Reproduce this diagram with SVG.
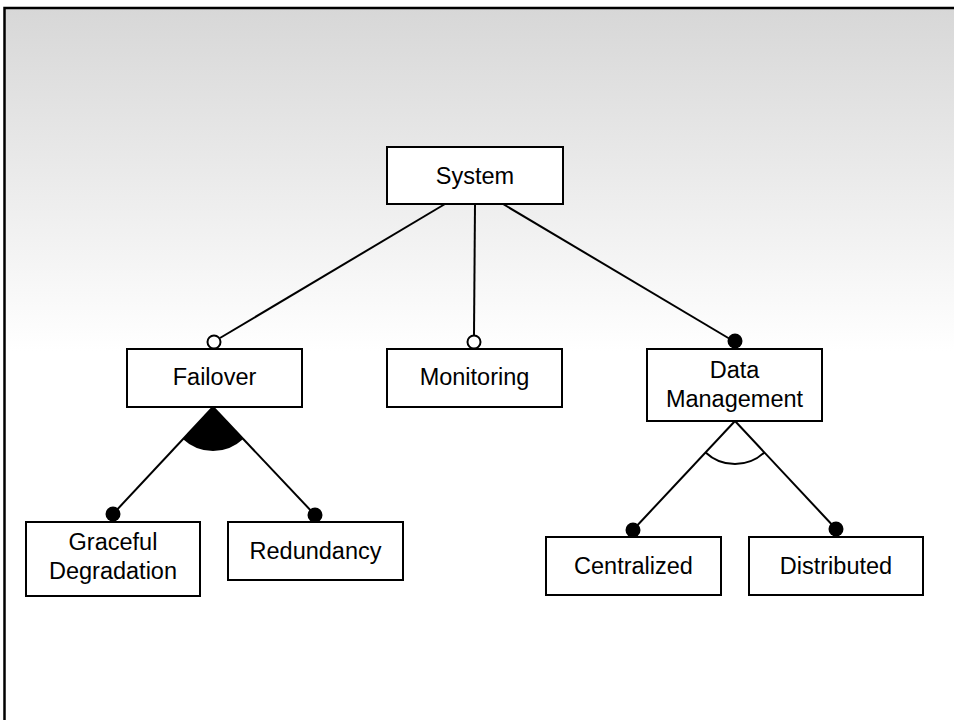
<svg xmlns="http://www.w3.org/2000/svg" width="954" height="720" viewBox="0 0 954 720">
  <defs>
    <linearGradient id="bg" x1="0" y1="0" x2="0" y2="1" gradientUnits="objectBoundingBox">
      <stop offset="0" stop-color="#d7d7d7"/>
      <stop offset="0.47" stop-color="#ffffff"/>
      <stop offset="1" stop-color="#ffffff"/>
    </linearGradient>
    <style>
      .box { fill: #ffffff; stroke: #000000; stroke-width: 2; }
      .lbl { font-family: "Liberation Sans", Arial, sans-serif; font-size: 23.5px; fill: #000000; text-anchor: middle; }
      .edge { stroke: #000000; stroke-width: 2; fill: none; }
      .opt { fill: #ffffff; stroke: #000000; stroke-width: 2; }
      .mand { fill: #000000; stroke: none; }
    </style>
  </defs>

  <!-- page background with frame -->
  <rect x="0" y="0" width="954" height="720" fill="#ffffff"/>
  <rect x="4.5" y="8" width="960" height="730" fill="url(#bg)" stroke="#000000" stroke-width="2.5"/>

  <!-- connectors -->
  <g id="connectors">
    <line class="edge" x1="445" y1="204" x2="220" y2="338"/>
    <line class="edge" x1="475" y1="204" x2="474" y2="335"/>
    <line class="edge" x1="503" y1="204" x2="735" y2="342"/>

    <!-- Failover: or-group (filled sector) -->
    <path class="mand" d="M213,407 L182.8,439 A44,44 0 0 0 243.2,439 Z"/>
    <line class="edge" x1="213" y1="407" x2="113" y2="514"/>
    <line class="edge" x1="213" y1="407" x2="315" y2="515"/>

    <!-- Data Management: alternative group (open arc) -->
    <line class="edge" x1="735" y1="421" x2="633" y2="530"/>
    <line class="edge" x1="735" y1="421" x2="836" y2="529"/>
    <path class="edge" d="M705.6,452.4 A43,43 0 0 0 764.4,452.4"/>

    <!-- end markers -->
    <circle class="opt" cx="214" cy="342" r="6.5"/>
    <circle class="opt" cx="474" cy="342" r="6.5"/>
    <circle class="mand" cx="735" cy="341" r="7.5"/>
    <circle class="mand" cx="113" cy="514" r="7.5"/>
    <circle class="mand" cx="315" cy="515" r="7.5"/>
    <circle class="mand" cx="633" cy="530" r="7.5"/>
    <circle class="mand" cx="836" cy="529" r="7.5"/>
  </g>

  <g id="system">
    <rect class="box" x="387" y="147" width="176" height="57"/>
    <text class="lbl" x="475" y="183.5">System</text>
  </g>

  <g id="failover">
    <rect class="box" x="127" y="349" width="175" height="58"/>
    <text class="lbl" x="214.5" y="384.5">Failover</text>
  </g>

  <g id="monitoring">
    <rect class="box" x="387" y="349" width="175" height="58"/>
    <text class="lbl" x="474.5" y="384.5">Monitoring</text>
  </g>

  <g id="data-management">
    <rect class="box" x="647" y="349" width="175" height="72"/>
    <text class="lbl" x="734.5" y="377.5">Data</text>
    <text class="lbl" x="734.5" y="406.5">Management</text>
  </g>

  <g id="graceful-degradation">
    <rect class="box" x="26" y="522" width="174" height="74"/>
    <text class="lbl" x="113" y="550">Graceful</text>
    <text class="lbl" x="113" y="579">Degradation</text>
  </g>

  <g id="redundancy">
    <rect class="box" x="228" y="522" width="175" height="58"/>
    <text class="lbl" x="315.5" y="559">Redundancy</text>
  </g>

  <g id="centralized">
    <rect class="box" x="546" y="537" width="175" height="58"/>
    <text class="lbl" x="633.5" y="573.5">Centralized</text>
  </g>

  <g id="distributed">
    <rect class="box" x="749" y="537" width="174" height="58"/>
    <text class="lbl" x="836" y="573.5">Distributed</text>
  </g>
</svg>
